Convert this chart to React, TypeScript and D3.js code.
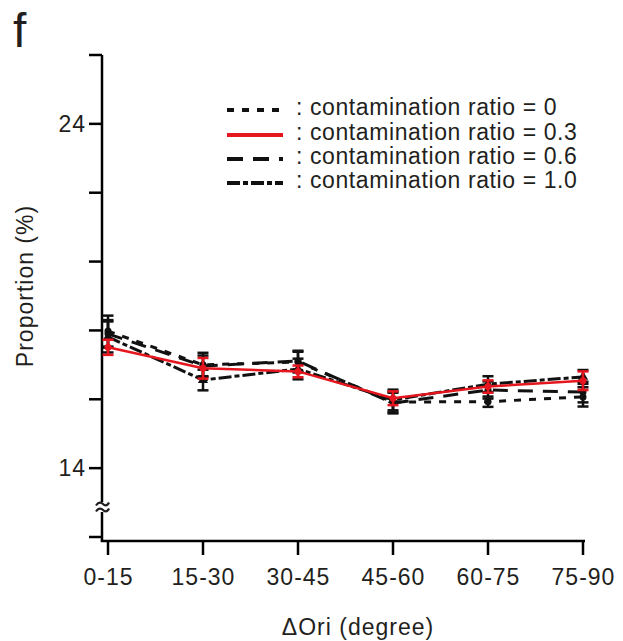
import React from "react";
import * as d3 from "d3";

const categories = ["0-15", "15-30", "30-45", "45-60", "60-75", "75-90"];
const ratio0 = [17.98, 17.0, 17.08, 15.92, 15.93, 16.07];
const ratio0Err = [0.45, 0.35, 0.3, 0.3, 0.15, 0.28];
const ratio03 = [17.51, 16.9, 16.81, 16.03, 16.37, 16.54];
const ratio03Err = [0.22, 0.3, 0.17, 0.2, 0.18, 0.27];
const ratio06 = [17.9, 16.97, 17.11, 15.89, 16.27, 16.21];
const ratio06Err = [0.4, 0.3, 0.3, 0.3, 0.25, 0.3];
const ratio10 = [17.81, 16.56, 16.88, 15.98, 16.44, 16.65];
const ratio10Err = [0.45, 0.3, 0.3, 0.3, 0.23, 0.2];
const yTicks = [12, 14, 16, 18, 20, 22, 24, 26];
const yTickLabels: Record<number, string> = { 14: "14", 24: "24" };
const legendLabels = [
  ": contamination ratio = 0",
  ": contamination ratio = 0.3",
  ": contamination ratio = 0.6",
  ": contamination ratio = 1.0",
];

const FONT = "Arial, 'Liberation Sans', Helvetica, sans-serif";
const RED = "#e5161d";
const BLACK = "#111";
const TEXT = "#231f20";

type Series = {
  values: number[];
  err: number[];
  color: string;
  dash: string | null;
  width: number;
  marker: "circle" | "triangle";
};

const series: Series[] = [
  { values: ratio0, err: ratio0Err, color: BLACK, dash: "7,8", width: 3, marker: "circle" },
  { values: ratio06, err: ratio06Err, color: BLACK, dash: "15,10", width: 3, marker: "circle" },
  { values: ratio10, err: ratio10Err, color: BLACK, dash: "13,3,5,3", width: 3, marker: "triangle" },
  { values: ratio03, err: ratio03Err, color: RED, dash: null, width: 2.5, marker: "circle" },
];

const legendStyles = [
  { color: BLACK, dash: "7,8" },
  { color: RED, dash: null },
  { color: BLACK, dash: "16,10" },
  { color: BLACK, dash: "13,3,5,3" },
];

export default function App() {
  const W = 623;
  const H = 641;
  const y = d3.scaleLinear().domain([12, 26]).range([537, 55]);
  const x = d3.scalePoint<string>().domain(categories).range([108, 583]).padding(0);
  const line = d3
    .line<number>()
    .x((_, i) => x(categories[i]) as number)
    .y((v) => y(v));

  const axisX = 102;
  const axisBottom = 541;
  const wave = (cy: number) =>
    `M${axisX - 6},${cy + 1.5} C${axisX - 3},${cy - 3} ${axisX},${cy - 1} ${axisX + 1},${cy} S${axisX + 5},${cy + 3} ${axisX + 7},${cy - 1.5}`;

  return (
    <svg
      width={W}
      height={H}
      style={{ position: "absolute", left: 0, top: 0, background: "#fff" }}
      fontFamily={FONT}
    >
      <rect width={W} height={H} fill="#fff" />
      <text x={13} y={47} fontSize={48} fill={TEXT}>f</text>

      {/* Y axis */}
      <line x1={axisX} x2={axisX} y1={55} y2={axisBottom} stroke="#000" strokeWidth={2.5} />
      {yTicks.map((t) => (
        <g key={t}>
          <line x1={axisX - 13} x2={axisX} y1={y(t)} y2={y(t)} stroke="#000" strokeWidth={2.5} />
          {yTickLabels[t] && (
            <text x={86} y={y(t)} dy="0.36em" textAnchor="end" fontSize={23} letterSpacing={1} fill={TEXT}>
              {yTickLabels[t]}
            </text>
          )}
        </g>
      ))}
      {/* axis break */}
      <rect x={axisX - 3} y={502} width={6} height={10} fill="#fff" />
      <path d={wave(504)} fill="none" stroke={TEXT} strokeWidth={2.2} />
      <path d={wave(510)} fill="none" stroke={TEXT} strokeWidth={2.2} />

      {/* X axis */}
      <line x1={axisX - 1.25} x2={585} y1={axisBottom} y2={axisBottom} stroke="#000" strokeWidth={2.5} />
      {categories.map((c) => (
        <g key={c}>
          <line x1={x(c)} x2={x(c)} y1={axisBottom} y2={555} stroke="#000" strokeWidth={2.5} />
          <text x={(x(c) as number) + 0.5} y={585} textAnchor="middle" fontSize={23} letterSpacing={1} fill={TEXT}>
            {c}
          </text>
        </g>
      ))}

      <text x={358} y={635} textAnchor="middle" fontSize={23} letterSpacing={1} fill={TEXT}>
        ΔOri (degree)
      </text>
      <text
        transform={`translate(33,286) rotate(-90)`}
        textAnchor="middle"
        fontSize={23}
        letterSpacing={1}
        fill={TEXT}
      >
        Proportion (%)
      </text>

      {/* series */}
      {series.map((s, si) => (
        <g key={si}>
          <path
            d={line(s.values) || ""}
            fill="none"
            stroke={s.color}
            strokeWidth={s.width}
            strokeDasharray={s.dash || undefined}
          />
          {s.values.map((v, i) => {
            const cx = x(categories[i]) as number;
            const y0 = y(v - s.err[i]);
            const y1 = y(v + s.err[i]);
            return (
              <g key={i}>
                <line x1={cx} x2={cx} y1={y0} y2={y1} stroke={s.color} strokeWidth={2.5} />
                <line x1={cx - 5.5} x2={cx + 5.5} y1={y0} y2={y0} stroke={s.color} strokeWidth={2.5} />
                <line x1={cx - 5.5} x2={cx + 5.5} y1={y1} y2={y1} stroke={s.color} strokeWidth={2.5} />
                {s.marker === "circle" ? (
                  <circle cx={cx} cy={y(v)} r={3.5} fill={s.color} />
                ) : (
                  <path
                    d={d3.symbol(d3.symbolTriangle, 45)() || ""}
                    transform={`translate(${cx},${y(v)})`}
                    fill={s.color}
                  />
                )}
              </g>
            );
          })}
        </g>
      ))}

      {/* legend */}
      {legendLabels.map((lab, i) => {
        const base = [115, 140, 164, 188][i];
        const st = legendStyles[i];
        return (
          <g key={lab}>
            <line
              x1={227}
              x2={283}
              y1={base - 5}
              y2={base - 5}
              stroke={st.color}
              strokeWidth={4}
              strokeDasharray={st.dash || undefined}
            />
            <text x={296} y={base} fontSize={23} letterSpacing={0.6} fill={TEXT}>
              {lab}
            </text>
          </g>
        );
      })}
    </svg>
  );
}
